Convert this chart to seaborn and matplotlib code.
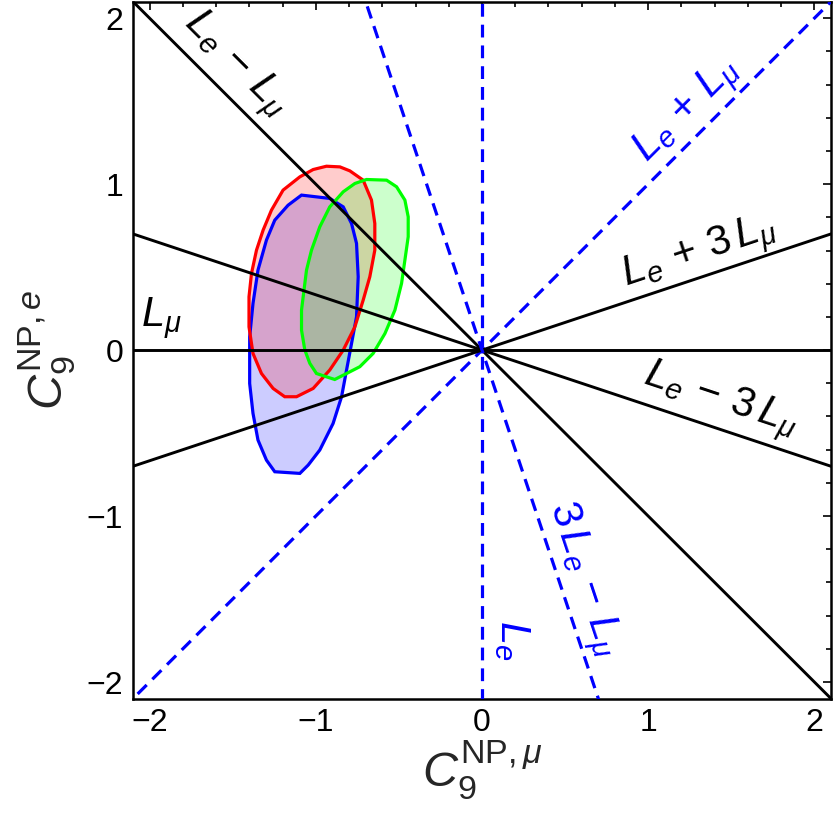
import numpy as np
import matplotlib
matplotlib.use("Agg")
from matplotlib import pyplot as plt
import seaborn as sns

# lines through the origin: direction (C9_mu, C9_e) components
line_labels = [r"$L_\mu$", r"$L_e$", r"$L_e \,+\, L_\mu$", r"$L_e \,-\, L_\mu$",
               r"$L_e \,+\, 3\,L_\mu$", r"$L_e \,-\, 3\,L_\mu$", r"$3\,L_e \,-\, L_\mu$"]
mu_coef = [1, 0, 1, -1, 3, -3, -1]
e_coef = [0, 1, 1, 1, 1, 1, 3]
line_color = ["black", "blue", "blue", "black", "black", "black", "blue"]
dashed = [False, True, True, False, False, False, True]

# fit regions (C9_mu, C9_e)
blue_mu = [-1.086, -0.916, -0.835, -0.785, -0.755, -0.745, -0.755, -0.785, -0.815, -0.845,
           -0.896, -0.976, -1.046, -1.096, -1.247, -1.297, -1.348, -1.378, -1.398, -1.398,
           -1.378, -1.348, -1.297, -1.247, -1.167]
blue_e = [0.934, 0.914, 0.863, 0.763, 0.643, 0.442, 0.201, 0.040, -0.120, -0.281,
          -0.442, -0.602, -0.693, -0.743, -0.733, -0.663, -0.542, -0.381, -0.201, 0.080,
          0.281, 0.482, 0.663, 0.783, 0.873]

red_mu = [-0.936, -0.855, -0.795, -0.715, -0.665, -0.645, -0.645, -0.675, -0.715, -0.765,
          -0.835, -0.916, -1.016, -1.116, -1.187, -1.257, -1.327, -1.378, -1.402, -1.402,
          -1.387, -1.357, -1.317, -1.267, -1.197, -1.096, -1.016]
red_e = [1.108, 1.104, 1.080, 1.024, 0.904, 0.763, 0.602, 0.442, 0.301, 0.140,
         0.0, -0.120, -0.231, -0.281, -0.281, -0.231, -0.141, -0.020, 0.140, 0.321,
         0.462, 0.602, 0.723, 0.843, 0.964, 1.044, 1.088]

green_mu = [-0.695, -0.574, -0.514, -0.464, -0.444, -0.444, -0.464, -0.484, -0.524, -0.584,
            -0.655, -0.735, -0.815, -0.886, -0.936, -0.996, -1.036, -1.066, -1.086, -1.086,
            -1.066, -1.056, -1.026, -0.976, -0.916, -0.835, -0.765]
green_e = [1.028, 1.024, 0.984, 0.904, 0.803, 0.683, 0.542, 0.402, 0.241, 0.100,
           -0.020, -0.100, -0.141, -0.177, -0.161, -0.141, -0.080, 0.0, 0.120, 0.241,
           0.402, 0.482, 0.602, 0.743, 0.863, 0.954, 1.004]

sns.set_theme(style="white")
plt.rcParams['font.family'] = ['Liberation Sans', 'DejaVu Sans']
plt.rcParams['mathtext.fontset'] = 'custom'
plt.rcParams['mathtext.rm'] = 'Liberation Sans'
plt.rcParams['mathtext.it'] = 'Liberation Sans:italic'
plt.rcParams['mathtext.bf'] = 'Liberation Sans:bold'

fig = plt.figure(figsize=(8.34, 8.25), dpi=100)
ax = fig.add_axes([133 / 834, 1 - 698.6 / 825, 698 / 834, 697 / 825])

for xs, ys, c in [(blue_mu, blue_e, "blue"), (red_mu, red_e, "red"), (green_mu, green_e, (0, 1, 0))]:
    ax.fill(xs, ys, color=c, alpha=0.2, lw=0, zorder=1)
    ax.fill(xs, ys, facecolor="none", edgecolor=c, lw=2.3, zorder=2)

t = np.array([-3.0, 3.0])
for m, e, c, d in zip(mu_coef, e_coef, line_color, dashed):
    sns.lineplot(x=m * t, y=e * t, ax=ax, color=c, lw=2.3 if d else 2.1,
                 estimator=None, sort=False, zorder=3)
    if d:
        ax.lines[-1].set_dashes((4, 2.5))

# label placement (x, y, rotation)
label_pos = [(-1.93, 0.19, 0), (0.18, -1.75, -90), (1.24, 1.44, 45), (-1.49, 1.72, -45),
             (1.31, 0.58, 18.4), (1.43, -0.31, -18.4), (0.60, -1.38, -71.6)]
for lab, (x, y, r), c in zip(line_labels, label_pos, line_color):
    ax.text(x, y, lab, color=c, fontsize=30, rotation=r, rotation_mode="anchor",
            ha="center", va="center", zorder=4)

ax.set_xlim(-2.1, 2.1)
ax.set_ylim(-2.1, 2.1)
ax.set_xticks([-2, -1, 0, 1, 2])
ax.set_yticks([-2, -1, 0, 1, 2])
ax.set_xticks(np.arange(-2, 2.01, 0.2), minor=True)
ax.set_yticks(np.arange(-2, 2.01, 0.2), minor=True)
ax.tick_params(which="both", direction="in", top=True, right=True, labelsize=23,
               color="black", labelcolor="black", width=1.2)
ax.tick_params(which="major", length=6, pad=7)
ax.tick_params(which="minor", length=3.5)
for s in ax.spines.values():
    s.set_color("black")
    s.set_linewidth(1.8)

ax.set_xlabel(r"$C_9^{\mathrm{NP},\mu}$", fontsize=35, labelpad=0)
ax.set_ylabel(r"$C_9^{\mathrm{NP},e}$", fontsize=35, labelpad=6)

fig.savefig("out.png", dpi=100)
